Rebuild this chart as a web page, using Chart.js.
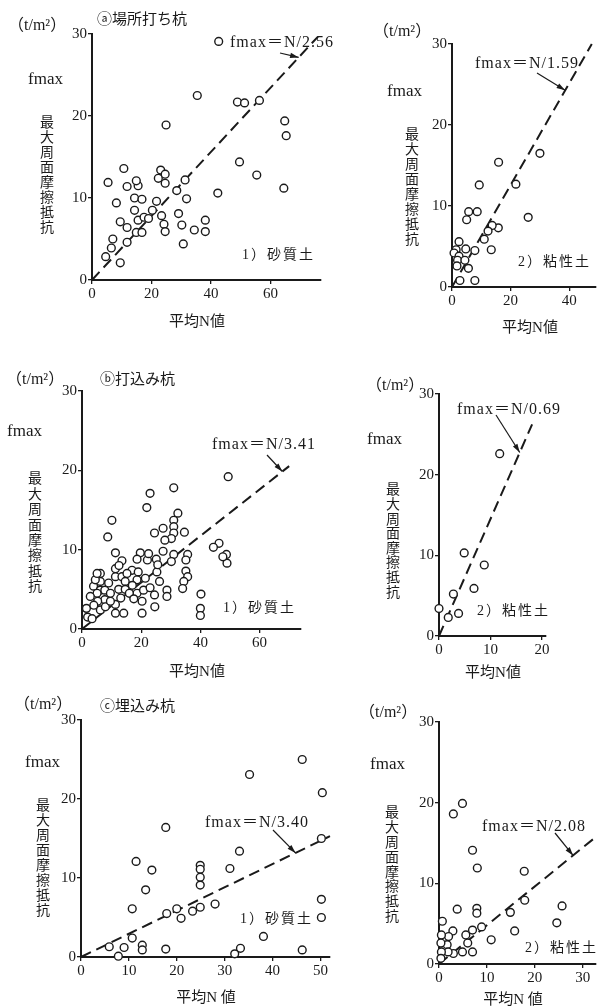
<!DOCTYPE html>
<html>
<head>
<meta charset="utf-8">
<script src="https://cdn.jsdelivr.net/npm/chart.js@4.4.0/dist/chart.umd.min.js"></script>
<style>
html, body { margin: 0; padding: 0; background: #fff; }
#wrap { position: relative; width: 601px; height: 1007px; overflow: hidden; }
#wrap canvas { position: absolute; left: 0; top: 0; }
</style>
</head>
<body>
<div id="wrap">
  <canvas id="c1" width="601" height="1007"></canvas>
  <canvas id="c2" width="601" height="1007"></canvas>
  <canvas id="c3" width="601" height="1007"></canvas>
  <canvas id="c4" width="601" height="1007"></canvas>
  <canvas id="c5" width="601" height="1007"></canvas>
  <canvas id="c6" width="601" height="1007"></canvas>
</div>
<script>
// tick labels
const yTicks = [0, 10, 20, 30];
const xTicksA = [0, 20, 40, 60];
const xTicksB = [0, 20, 40];
const xTicksC = [0, 20, 40, 60];
const xTicksD = [0, 10, 20];
const xTicksE = [0, 10, 20, 30, 40, 50];
const xTicksF = [0, 10, 20, 30];

// ⓐ 場所打ち杭 1) 砂質土
const castSandN = [4.6, 9.5, 6.5, 7.0, 11.8, 11.8, 9.5, 14.9, 16.8, 15.5, 17.5, 19.0, 20.3, 8.2, 5.4, 11.8, 10.7,
  14.3, 14.3, 16.8, 15.5, 14.9, 21.7, 23.1, 22.3, 24.6, 24.6, 23.4, 24.2, 24.6, 28.5, 31.3, 31.8, 29.1, 30.2, 30.7,
  34.4, 38.1, 38.1, 42.3, 24.9, 35.4, 42.6, 48.9, 51.3, 56.3, 49.6, 55.4, 64.8, 65.3, 64.5];
const castSandF = [2.85, 2.1, 3.9, 5.0, 4.6, 6.4, 7.1, 5.8, 5.8, 7.3, 7.65, 7.5, 8.5, 9.4, 11.9, 11.4, 13.6,
  8.5, 10.0, 9.85, 11.5, 12.1, 9.6, 13.4, 12.4, 12.9, 11.8, 7.85, 6.8, 5.9, 10.9, 12.2, 9.9, 8.1, 6.7, 4.4,
  6.1, 5.9, 7.3, 10.6, 18.9, 22.5, 29.1, 21.7, 21.6, 21.9, 14.4, 12.8, 19.4, 17.6, 11.2];

// ⓐ 場所打ち杭 2) 粘性土
const castClayN = [30.0, 15.9, 21.8, 9.3, 26.0, 5.7, 8.6, 5.0, 15.8, 13.7, 12.3, 11.0, 13.4, 7.8, 2.4, 4.7, 1.4,
  0.7, 2.4, 1.9, 4.4, 1.7, 5.6, 2.7, 7.8];
const castClayF = [16.5, 15.4, 12.7, 12.6, 8.6, 9.3, 9.3, 8.3, 7.3, 7.6, 6.9, 5.9, 4.6, 4.5, 5.6, 4.7, 4.6,
  4.2, 3.8, 3.3, 3.3, 2.6, 2.3, 0.8, 0.8];

// ⓑ 打込み杭 1) 砂質土
const drivenSandN = [49.4, 49.0, 48.8, 47.6, 46.3, 44.4, 40.2, 40.0, 40.0, 31.0, 23.0, 21.9, 10.1, 8.7, 32.4, 31.0,
  31.0, 31.0, 30.2, 27.4, 24.5, 28.0, 34.6, 27.4, 31.0, 30.2, 35.7, 35.1, 35.1, 35.7, 34.4, 34.0, 25.1, 25.3, 25.6,
  26.2, 24.5, 28.7, 28.7, 24.6, 22.1, 19.7, 18.6, 16.9, 21.4, 18.6, 18.6, 20.8, 20.3, 20.3, 11.3, 13.5, 11.3, 11.3,
  13.5, 15.2, 14.6, 12.4, 14.6, 13.1, 11.3, 11.3, 14.1, 6.2, 6.2, 3.9, 6.2, 7.7, 7.7, 5.1, 2.8, 5.3, 6.2, 7.9, 9.6,
  9.6, 1.5, 1.9, 3.4, 4.5, 5.1, 17.0, 16.0, 23.0, 19.0, 22.5, 9.0, 4.0, 12.5, 17.5];
const drivenSandF = [19.2, 8.3, 9.4, 9.1, 10.8, 10.3, 4.4, 2.6, 1.7, 17.8, 17.1, 15.3, 13.7, 11.6, 14.6, 13.7,
  12.9, 12.1, 11.4, 12.7, 12.1, 11.2, 12.2, 9.8, 9.4, 8.5, 9.4, 8.7, 7.3, 6.6, 6.0, 5.1, 8.8, 7.2, 8.1,
  6.0, 4.3, 4.9, 4.1, 2.8, 8.7, 9.6, 8.8, 7.4, 6.4, 6.2, 4.5, 4.9, 3.5, 2.0, 9.6, 8.6, 7.6, 6.6,
  6.6, 7.0, 6.0, 5.0, 5.0, 3.9, 3.1, 2.0, 2.0, 7.0, 6.0, 5.4, 4.9, 4.9, 3.7, 4.5, 4.1, 3.5, 2.4, 2.8, 3.5,
  4.5, 2.6, 1.5, 1.3, 6.2, 7.0, 5.5, 4.5, 5.2, 7.2, 9.5, 5.8, 3.0, 8.0, 3.8];

// ⓑ 打込み杭 2) 粘性土
const drivenClayN = [11.8, 4.9, 8.8, 6.8, 2.8, 0, 1.8, 3.8];
const drivenClayF = [22.6, 10.3, 8.8, 5.9, 5.2, 3.4, 2.3, 2.8];

// ⓒ 埋込み杭 1) 砂質土
const boredSandN = [46.2, 35.2, 50.4, 17.7, 50.2, 33.1, 11.5, 14.8, 24.9, 24.9, 24.9, 24.9, 31.1, 13.5, 10.7, 20.0,
  17.9, 20.9, 23.3, 24.9, 28.0, 50.2, 50.2, 10.7, 5.9, 9.0, 7.8, 12.8, 12.8, 17.7, 33.3, 32.1, 38.1, 46.2];
const boredSandF = [25.0, 23.1, 20.8, 16.4, 15.0, 13.4, 12.1, 11.0, 11.6, 11.1, 10.1, 9.1, 11.2, 8.5, 6.1, 6.1,
  5.5, 4.9, 5.8, 6.3, 6.7, 7.3, 5.0, 2.4, 1.3, 1.2, 0.1, 1.5, 0.9, 1.0, 1.1, 0.4, 2.6, 0.9];

// ⓒ 埋込み杭 2) 粘性土
const boredClayN = [4.9, 3.0, 7.0, 8.0, 17.8, 17.9, 14.9, 25.7, 24.6, 15.8, 10.9, 3.8, 7.9, 7.9, 8.9, 7.0, 5.6,
  6.0, 7.0, 4.9, 3.0, 2.9, 2.0, 1.7, 1.9, 0.7, 0.5, 0.4, 0.5, 0.4];
const boredClayF = [19.9, 18.6, 14.1, 11.9, 11.5, 7.9, 6.4, 7.2, 5.1, 4.1, 3.0, 6.8, 6.9, 6.3, 4.6, 4.2, 3.6,
  2.6, 1.5, 1.5, 1.3, 4.1, 3.4, 2.4, 1.5, 5.3, 3.6, 2.6, 1.5, 0.7];

// fmax = N / ratio
const ratios = [2.56, 1.59, 3.41, 0.69, 3.40, 2.08];
const lineEnds = [76, 47.7, 70, 18.1, 52, 32.5];
const arrowAt = [69.5, 38.6, 67.7, 15.7, 44.8, 28.0];

const serif = '"Liberation Serif", "Noto Sans CJK JP", serif';
const cjk = '"Noto Sans CJK JP", sans-serif';
const ink = '#1a1a1a';
const Y_W = 40;  // y axis box width
const X_H = 30;  // x axis box height

const notes = {
  id: 'notes',
  afterDraw(chart, args, o) {
    const c = chart.ctx;
    c.save();
    c.fillStyle = ink;
    c.strokeStyle = ink;
    c.textBaseline = 'middle';
    c.textAlign = 'left';
    c.font = '16px ' + serif;
    c.fillText('（t/m²）', o.unit[0], o.unit[1]);
    if (o.head) {
      c.font = '15px ' + cjk;
      c.fillText(o.head, o.headPos[0], o.headPos[1]);
    }
    c.font = '17px ' + serif;
    c.fillText('fmax', o.fmax[0], o.fmax[1]);
    c.font = '14px ' + cjk;
    c.textAlign = 'center';
    const title = '最大周面摩擦抵抗';
    for (let i = 0; i < title.length; i++) {
      c.fillText(title[i], o.vert[0], o.vert[1] + i * o.vert[2]);
    }
    c.font = '15px ' + serif;
    c.fillText(o.xTitle, o.xt[0], o.xt[1]);
    c.textAlign = 'left';
    c.font = '14px ' + serif;
    c.letterSpacing = '2px';
    c.fillText(o.soil, o.soilPos[0], o.soilPos[1]);
    c.font = '16px ' + serif;
    c.letterSpacing = '1px';
    c.fillText('fmax＝N/' + o.ratio.toFixed(2), o.eq[0], o.eq[1]);
    c.letterSpacing = '0px';
    // arrow to the line
    const sx = chart.scales.x, sy = chart.scales.y;
    const ex = sx.getPixelForValue(o.arrowN), ey = sy.getPixelForValue(o.arrowN / o.ratio);
    const bx = o.arrowFrom[0], by = o.arrowFrom[1];
    c.lineWidth = 1.2;
    c.beginPath();
    c.moveTo(bx, by);
    c.lineTo(ex, ey);
    c.stroke();
    const a = Math.atan2(ey - by, ex - bx);
    c.beginPath();
    c.moveTo(ex, ey);
    c.lineTo(ex - 9 * Math.cos(a - 0.3), ey - 9 * Math.sin(a - 0.3));
    c.lineTo(ex - 9 * Math.cos(a + 0.3), ey - 9 * Math.sin(a + 0.3));
    c.closePath();
    c.fill();
    c.restore();
  }
};

function makePanel(p) {
  const pts = p.n.map((v, i) => ({ x: v, y: p.f[i] }));
  const axisCommon = {
    type: 'linear',
    grid: { drawOnChartArea: false, drawTicks: true, tickLength: 4, color: ink, lineWidth: 1.3 },
    border: { display: true, color: ink, width: 2 },
    ticks: { color: ink, font: { family: serif, size: 15 }, padding: 1, maxRotation: 0, autoSkip: false }
  };
  // chart area edges in page pixels -> layout padding
  const pad = {
    left: p.area.left - Y_W,
    right: 601 - p.area.right,
    top: p.area.top,
    bottom: 1007 - p.area.bottom - X_H
  };
  new Chart(document.getElementById(p.id), {
    type: 'scatter',
    data: {
      datasets: [
        {
          type: 'line',
          data: [{ x: 0, y: 0 }, { x: p.lineEnd, y: p.lineEnd / p.ratio }],
          borderColor: ink,
          borderWidth: 2,
          borderDash: [11, 6],
          pointRadius: 0,
          clip: false,
          order: 2
        },
        {
          data: pts,
          pointRadius: 3.9,
          pointBorderWidth: 1.4,
          pointBorderColor: ink,
          pointBackgroundColor: '#fff',
          clip: false,
          order: 1
        }
      ]
    },
    options: {
      responsive: false,
      animation: false,
      events: [],
      layout: { padding: pad },
      plugins: { legend: { display: false }, tooltip: { enabled: false }, notes: p },
      scales: {
        x: Object.assign({}, axisCommon, {
          min: 0, max: p.xMax,
          afterFit: s => { s.height = X_H; },
          afterBuildTicks: s => { s.ticks = p.xTicks.map(v => ({ value: v })); }
        }),
        y: Object.assign({}, axisCommon, {
          min: 0, max: 30,
          afterFit: s => { s.width = Y_W; },
          afterBuildTicks: s => { s.ticks = yTicks.map(v => ({ value: v })); }
        })
      }
    },
    plugins: [notes]
  });
}

makePanel({
  id: 'c1', n: castSandN, f: castSandF, xTicks: xTicksA, xMax: 77, ratio: ratios[0], lineEnd: lineEnds[0], arrowN: arrowAt[0],
  area: { left: 92, right: 321, top: 34, bottom: 280 },
  unit: [8, 26], head: 'ⓐ場所打ち杭', headPos: [97, 18], fmax: [28, 80], vert: [47, 122, 15],
  xTitle: '平均N値', xt: [197, 322], soil: '1）砂質土', soilPos: [242, 255], eq: [230, 43], arrowFrom: [280, 53]
});
makePanel({
  id: 'c2', n: castClayN, f: castClayF, xTicks: xTicksB, xMax: 49, ratio: ratios[1], lineEnd: lineEnds[1], arrowN: arrowAt[1],
  area: { left: 452, right: 599, top: 44, bottom: 287 },
  unit: [373, 32], fmax: [387, 92], vert: [412, 134, 15],
  xTitle: '平均N値', xt: [530, 328], soil: '2）粘性土', soilPos: [518, 262], eq: [475, 64], arrowFrom: [537, 73]
});
makePanel({
  id: 'c3', n: drivenSandN, f: drivenSandF, xTicks: xTicksC, xMax: 74, ratio: ratios[2], lineEnd: lineEnds[2], arrowN: arrowAt[2],
  area: { left: 82, right: 301, top: 391, bottom: 629 },
  unit: [6, 380], head: 'ⓑ打込み杭', headPos: [100, 378], fmax: [7, 432], vert: [35, 478, 15.4],
  xTitle: '平均N値', xt: [197, 672], soil: '1）砂質土', soilPos: [223, 608], eq: [212, 445], arrowFrom: [267, 455]
});
makePanel({
  id: 'c4', n: drivenClayN, f: drivenClayF, xTicks: xTicksD, xMax: 20.8, ratio: ratios[3], lineEnd: lineEnds[3], arrowN: arrowAt[3],
  area: { left: 439, right: 546, top: 394, bottom: 636 },
  unit: [366, 386], fmax: [367, 440], vert: [393, 489, 14.6],
  xTitle: '平均N値', xt: [493, 673], soil: '2）粘性土', soilPos: [477, 611], eq: [457, 410], arrowFrom: [496, 415]
});
makePanel({
  id: 'c5', n: boredSandN, f: boredSandF, xTicks: xTicksE, xMax: 52, ratio: ratios[4], lineEnd: lineEnds[4], arrowN: arrowAt[4],
  area: { left: 81, right: 330, top: 720, bottom: 957 },
  unit: [14, 705], head: 'ⓒ埋込み杭', headPos: [100, 705], fmax: [25, 763], vert: [43, 805, 15],
  xTitle: '平均N 値', xt: [206, 998], soil: '1）砂質土', soilPos: [240, 919], eq: [205, 823], arrowFrom: [273, 830]
});
makePanel({
  id: 'c6', n: boredClayN, f: boredClayF, xTicks: xTicksF, xMax: 32.7, ratio: ratios[5], lineEnd: lineEnds[5], arrowN: arrowAt[5],
  area: { left: 439, right: 600, top: 722, bottom: 964 },
  unit: [359, 713], fmax: [370, 765], vert: [392, 812, 14.8],
  xTitle: '平均N 値', xt: [513, 1000], soil: '2）粘性土', soilPos: [525, 948], eq: [482, 827], arrowFrom: [555, 833]
});
</script>
</body>
</html>
